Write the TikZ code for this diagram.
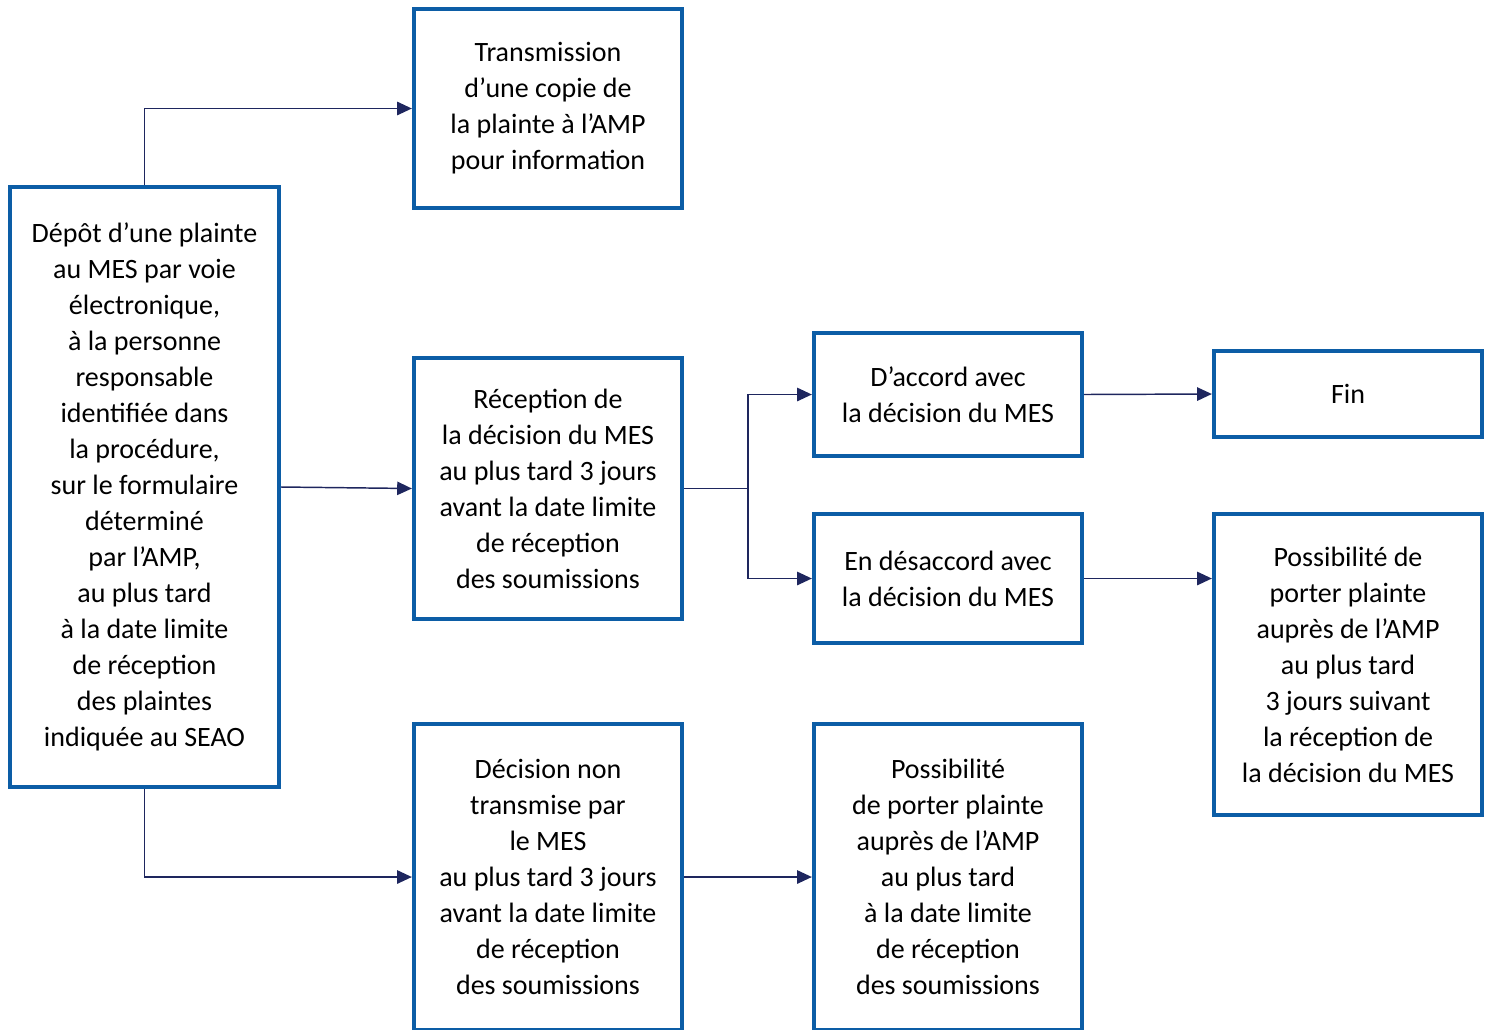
\documentclass[tikz,border=0pt]{standalone}
\usepackage{fontspec}
\setmainfont{Carlito}
\usetikzlibrary{arrows.meta}
\definecolor{boxblue}{RGB}{12,93,166}
\definecolor{arrnavy}{RGB}{30,38,94}
\begin{document}
\begin{tikzpicture}[x=0.75pt,y=-0.75pt,
  box/.style={draw=boxblue, line width=3.2pt, align=center, font=\fontsize{21}{27}\selectfont, inner sep=0pt, minimum width=201pt},
  conn/.style={draw=arrnavy, line width=1.1pt, -{Triangle[length=11pt,width=10pt]}},
  plain/.style={draw=arrnavy, line width=1.1pt}]
\useasboundingbox (0,0) rectangle (1494,1029);
\clip (0,0) rectangle (1494,1029);
\node[box, minimum width=201.75pt, minimum height=450pt] (A) at (144.5,487) {Dépôt d’une plainte\\au MES par voie\\électronique,\\à la personne\\responsable\\identifiée dans\\la procédure,\\sur le formulaire\\déterminé\\par l’AMP,\\au plus tard\\à la date limite\\de réception\\des plaintes\\indiquée au SEAO};
\node[box, minimum height=149.25pt] (B) at (548,108.5) {Transmission\\d’une copie de\\la plainte à l’AMP\\pour information};
\node[box, minimum height=195.75pt] (C) at (548,488.5) {Réception de\\la décision du MES\\au plus tard 3 jours\\avant la date limite\\de réception\\des soumissions};
\node[box, minimum height=229.5pt] (D) at (548,877) {Décision non\\transmise par\\le MES\\au plus tard 3 jours\\avant la date limite\\de réception\\des soumissions};
\node[box, minimum height=92.25pt] (E) at (948,394.5) {D’accord avec\\la décision du MES};
\node[box, minimum height=96.75pt] (F) at (948,578.5) {En désaccord avec\\la décision du MES};
\node[box, minimum height=64.5pt] (G) at (1348,394) {Fin};
\node[box, minimum height=225.75pt] (H) at (1348,664.5) {Possibilité de\\porter plainte\\auprès de l’AMP\\au plus tard\\3 jours suivant\\la réception de\\la décision du MES};
\node[box, minimum height=229.5pt] (I) at (948,877) {Possibilité\\de porter plainte\\auprès de l’AMP\\au plus tard\\à la date limite\\de réception\\des soumissions};
\coordinate (split) at (748,488.5);
\draw[conn] (A.north) |- (B.west);
\draw[conn] (A.east) -- (C.west);
\draw[plain] (C.east) -- (split);
\draw[conn] (split) |- (E.west);
\draw[conn] (split) |- (F.west);
\draw[conn] (E.east) -- (G.west);
\draw[conn] (F.east) -- (F.east -| H.west);
\draw[conn] (A.south) |- (D.west);
\draw[conn] (D.east) -- (I.west);
\end{tikzpicture}
\end{document}
